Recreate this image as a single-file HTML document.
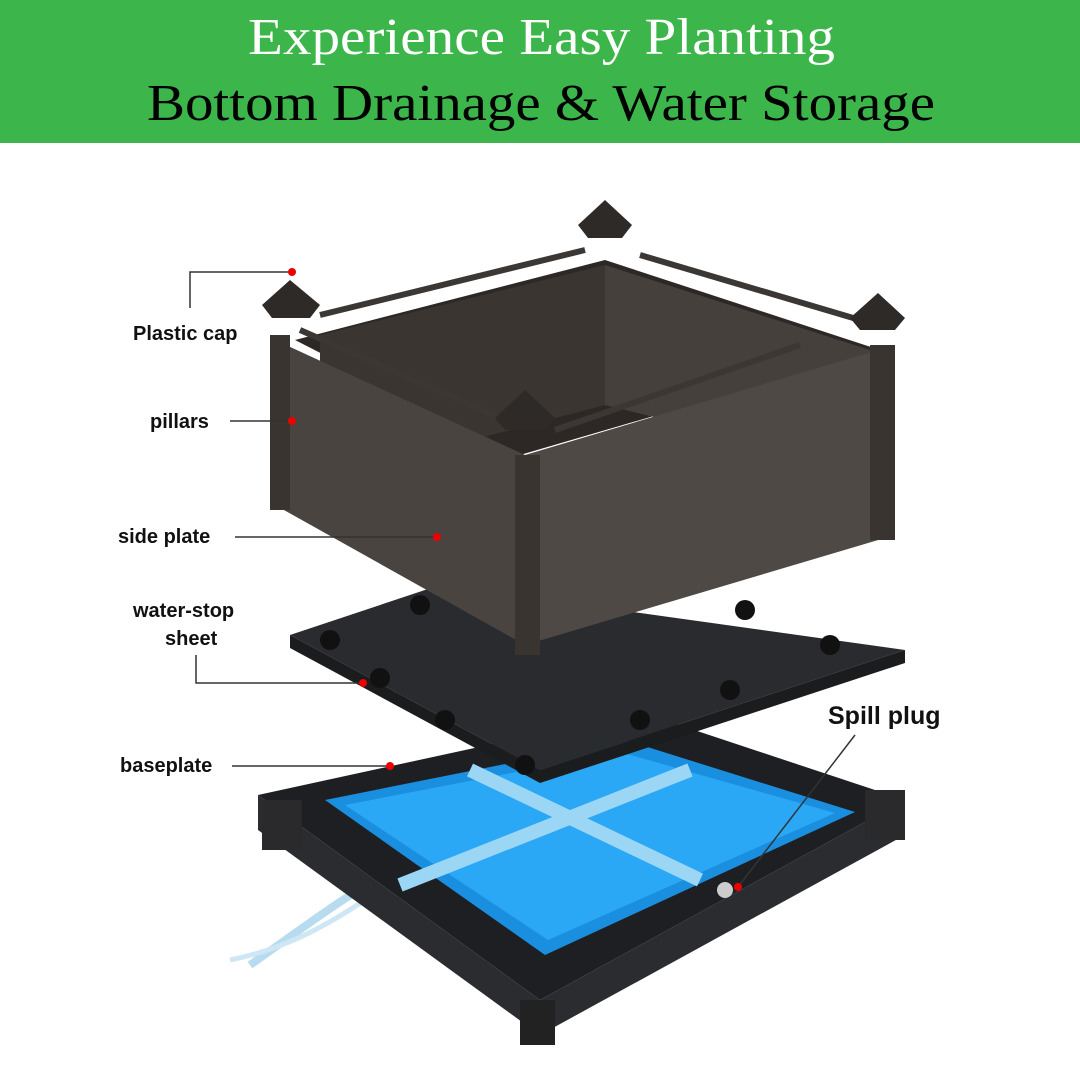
<!DOCTYPE html>
<html><head><meta charset="utf-8"><style>
html,body{margin:0;padding:0;background:#fff;}
svg{display:block}
</style></head><body>
<svg width="1080" height="1080" viewBox="0 0 1080 1080" xmlns="http://www.w3.org/2000/svg">
<rect x="0" y="0" width="1080" height="143" fill="#3cb54a"/>
<text x="248" y="54" font-family="Liberation Serif, serif" font-size="52" fill="#fff" textLength="587" lengthAdjust="spacingAndGlyphs">Experience Easy Planting</text>
<text x="147" y="120" font-family="Liberation Serif, serif" font-size="52" fill="#000" textLength="788" lengthAdjust="spacingAndGlyphs">Bottom Drainage &amp; Water Storage</text>

<!-- water splash -->
<path d="M375 880 C340 900 300 930 250 965" stroke="#b8dcef" stroke-width="8" fill="none"/>
<path d="M365 900 C320 930 280 950 230 960" stroke="#cfe7f5" stroke-width="5" fill="none"/>

<!-- baseplate -->
<polygon points="258,795 640,712 905,800 540,1000" fill="#1e1f22"/>
<polygon points="258,795 258,830 540,1035 905,835 905,800 540,1000" fill="#2b2c30"/>
<rect x="520" y="1000" width="35" height="45" fill="#222"/>
<rect x="262" y="800" width="40" height="50" fill="#2a2a2d"/>
<rect x="865" y="790" width="40" height="50" fill="#2a2a2d"/>
<polygon points="325,800 625,740 855,812 545,955" fill="#1a8fe0"/>
<polygon points="345,805 620,752 835,813 548,940" fill="#2aa7f5"/>
<path d="M470 770 L700 880 M400 885 L690 770" stroke="#9cd6f5" stroke-width="14"/>
<circle cx="725" cy="890" r="8" fill="#ccc"/>

<!-- water-stop sheet -->
<polygon points="290,635 440,585 905,650 540,770" fill="#2a2b2e"/>
<polygon points="290,635 290,648 540,783 905,663 905,650 540,770" fill="#1b1c1e"/>
<g fill="#111">
<circle cx="420" cy="605" r="10"/><circle cx="330" cy="640" r="10"/><circle cx="380" cy="678" r="10"/>
<circle cx="445" cy="720" r="10"/><circle cx="640" cy="720" r="10"/><circle cx="730" cy="690" r="10"/>
<circle cx="745" cy="610" r="10"/><circle cx="830" cy="645" r="10"/><circle cx="525" cy="765" r="10"/>
</g>

<!-- box interior -->
<polygon points="295,340 605,260 880,350 520,455" fill="#2d2826"/>
<polygon points="320,335 605,265 605,405 320,480" fill="#3b3532"/>
<polygon points="605,265 870,350 870,470 605,405" fill="#45403c"/>
<!-- front faces -->
<polygon points="275,340 525,455 525,645 275,505" fill="#4a4440"/>
<polygon points="525,455 895,345 895,535 525,645" fill="#4f4945"/>
<rect x="270" y="335" width="20" height="175" fill="#3a3431"/>
<rect x="515" y="455" width="25" height="200" fill="#3a3431"/>
<rect x="870" y="345" width="25" height="195" fill="#3a3431"/>
<!-- rails -->
<path d="M320 315 L585 250 M640 255 L860 320 M300 330 L505 420 M555 430 L800 345" stroke="#3a3735" stroke-width="6"/>
<!-- caps -->
<g fill="#2e2a28">
<polygon points="262,305 290,280 320,305 310,318 272,318"/>
<polygon points="578,225 605,200 632,225 622,238 588,238"/>
<polygon points="850,318 878,293 905,318 895,330 860,330"/>
<polygon points="495,418 525,390 555,418 545,430 505,430"/>
</g>

<!-- connectors -->
<g stroke="#333" stroke-width="1.5" fill="none">
<path d="M190 308 V272 H292"/>
<path d="M230 421 H290"/>
<path d="M235 537 H437"/>
<path d="M196 655 V683 H363"/>
<path d="M232 766 H390"/>
<path d="M855 735 L738 887"/>
</g>
<g fill="#e00">
<circle cx="292" cy="272" r="4"/><circle cx="292" cy="421" r="4"/><circle cx="437" cy="537" r="4"/>
<circle cx="363" cy="683" r="4"/><circle cx="390" cy="766" r="4"/><circle cx="738" cy="887" r="4"/>
</g>
<g font-family="Liberation Sans, sans-serif" font-weight="bold" font-size="20" fill="#111">
<text x="133" y="340">Plastic cap</text>
<text x="150" y="428">pillars</text>
<text x="118" y="543">side plate</text>
<text x="133" y="617">water-stop</text>
<text x="165" y="645">sheet</text>
<text x="120" y="772">baseplate</text>
<text x="828" y="724" font-size="25">Spill plug</text>
</g>
</svg>
</body></html>
